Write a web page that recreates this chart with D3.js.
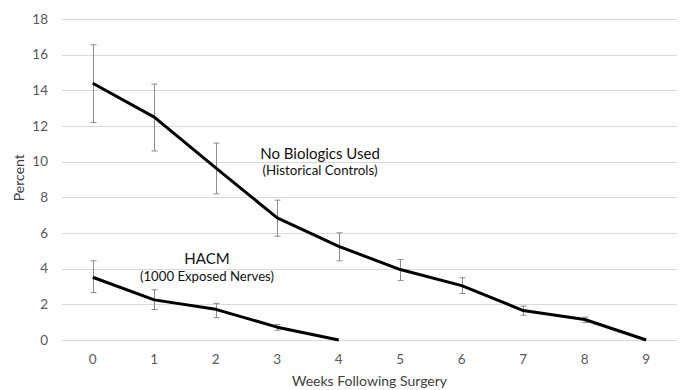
<!DOCTYPE html>
<html>
<head>
<meta charset="utf-8">
<script src="https://cdn.jsdelivr.net/npm/d3@7"></script>
<style>
  body { margin: 0; background: #fff; }
  svg text { font-family: Lato, "Open Sans", sans-serif; }
</style>
</head>
<body>
<div class="chart"></div>
<script>
// weeks after surgery
const weeks = [0, 1, 2, 3, 4, 5, 6, 7, 8, 9];

// No Biologics Used (Historical Controls)
const controlValues = [14.4, 12.5, 9.65, 6.85, 5.25, 3.95, 3.05, 1.65, 1.15, 0];
const controlLow    = [12.2, 10.6, 8.2, 5.82, 4.44, 3.34, 2.61, 1.39, 0.98, null];
const controlHigh   = [16.55, 14.35, 11.04, 7.84, 6.01, 4.51, 3.49, 1.9, 1.28, null];

// HACM (1000 Exposed Nerves)
const hacmWeeks  = [0, 1, 2, 3, 4];
const hacmValues = [3.52, 2.25, 1.72, 0.72, 0];
const hacmLow    = [2.66, 1.71, 1.25, 0.55, null];
const hacmHigh   = [4.44, 2.82, 2.05, 0.87, null];

const yTicks = [0, 2, 4, 6, 8, 10, 12, 14, 16, 18];

const width = 683, height = 390;
const margin = {top: 19, right: 6, bottom: 50, left: 62};

const svg = d3.select('.chart').append('svg')
  .attr('width', width)
  .attr('height', height);

const x = d3.scaleBand()
  .domain(weeks)
  .range([margin.left, width - margin.right]);

const y = d3.scaleLinear()
  .domain([0, 18])
  .range([height - margin.bottom, margin.top]);

const cx = d => x(d) + x.bandwidth() / 2;

// gridlines
svg.append('g')
  .selectAll('line')
  .data(yTicks)
  .enter()
  .append('line')
  .attr('x1', margin.left)
  .attr('x2', width - margin.right)
  .attr('y1', d => Math.round(y(d)) + 0.5)
  .attr('y2', d => Math.round(y(d)) + 0.5)
  .attr('stroke', '#d9d9d9')
  .attr('stroke-width', 1);

// y tick labels
svg.append('g')
  .selectAll('text')
  .data(yTicks)
  .enter()
  .append('text')
  .attr('x', 48)
  .attr('y', d => y(d))
  .attr('dy', '0.35em')
  .attr('text-anchor', 'end')
  .attr('font-size', 13.5)
  .attr('fill', '#595959')
  .text(d => d);

// x tick labels
svg.append('g')
  .selectAll('text')
  .data(weeks)
  .enter()
  .append('text')
  .attr('x', d => cx(d))
  .attr('y', 364)
  .attr('text-anchor', 'middle')
  .attr('font-size', 13.5)
  .attr('fill', '#595959')
  .text(d => d);

// axis titles
svg.append('text')
  .attr('x', (margin.left + width - margin.right) / 2)
  .attr('y', 386)
  .attr('text-anchor', 'middle')
  .attr('font-size', 14)
  .attr('fill', '#404040')
  .text('Weeks Following Surgery');

svg.append('text')
  .attr('transform', 'translate(24,' + y(9.1) + ') rotate(-90)')
  .attr('text-anchor', 'middle')
  .attr('font-size', 14)
  .attr('fill', '#404040')
  .text('Percent');

// error bars
const drawErrors = (xs, lo, hi) => {
  const g = svg.append('g').attr('stroke', '#8c8c8c').attr('stroke-width', 1);
  xs.forEach((w, i) => {
    if (lo[i] == null) return;
    const px = Math.round(cx(w)) + 0.5;
    g.append('line').attr('x1', px).attr('x2', px).attr('y1', y(lo[i])).attr('y2', y(hi[i]));
    g.append('line').attr('x1', px - 3).attr('x2', px + 3).attr('y1', y(lo[i])).attr('y2', y(lo[i]));
    g.append('line').attr('x1', px - 3).attr('x2', px + 3).attr('y1', y(hi[i])).attr('y2', y(hi[i]));
  });
};

drawErrors(weeks, controlLow, controlHigh);
drawErrors(hacmWeeks, hacmLow, hacmHigh);

const line = d3.line()
  .x(d => cx(d[0]))
  .y(d => y(d[1]));

svg.append('path')
  .datum(weeks.map((w, i) => [w, controlValues[i]]))
  .attr('fill', 'none')
  .attr('stroke', '#000')
  .attr('stroke-width', 3)
  .attr('stroke-linejoin', 'round')
  .attr('d', line);

svg.append('path')
  .datum(hacmWeeks.map((w, i) => [w, hacmValues[i]]))
  .attr('fill', 'none')
  .attr('stroke', '#000')
  .attr('stroke-width', 3)
  .attr('stroke-linejoin', 'round')
  .attr('d', line);

// annotations
svg.append('text')
  .attr('x', 320).attr('y', 159)
  .attr('text-anchor', 'middle')
  .attr('font-size', 15)
  .attr('fill', '#111')
  .text('No Biologics Used');

svg.append('text')
  .attr('x', 320).attr('y', 175)
  .attr('text-anchor', 'middle')
  .attr('font-size', 13.3)
  .attr('fill', '#111')
  .text('(Historical Controls)');

svg.append('text')
  .attr('x', 207).attr('y', 264)
  .attr('text-anchor', 'middle')
  .attr('font-size', 15)
  .attr('fill', '#111')
  .text('HACM');

svg.append('text')
  .attr('x', 207).attr('y', 281)
  .attr('text-anchor', 'middle')
  .attr('font-size', 13.2)
  .attr('fill', '#111')
  .text('(1000 Exposed Nerves)');
</script>
</body>
</html>
